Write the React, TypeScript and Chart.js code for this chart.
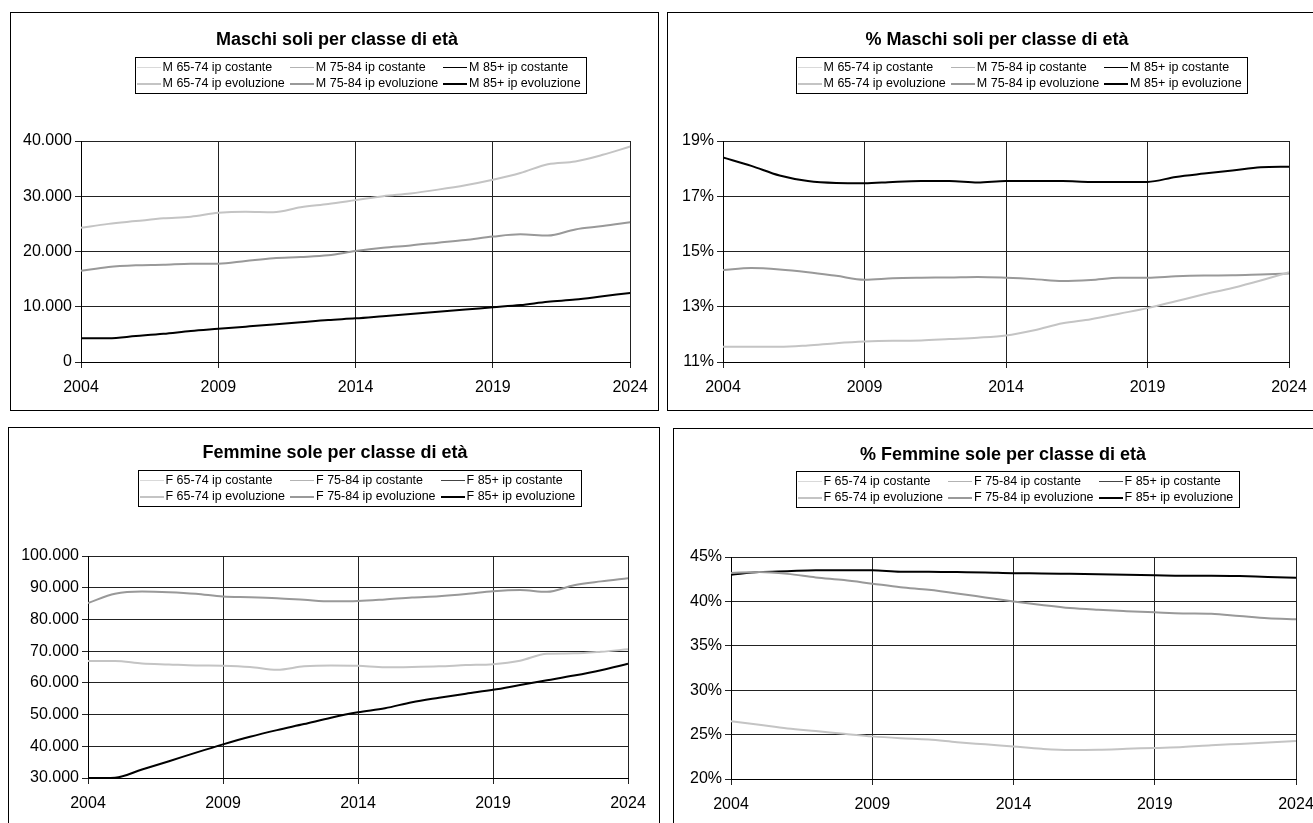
import React, { useEffect, useRef } from 'react';
import { Chart, registerables } from 'chart.js';

Chart.register(...registerables);

const FONT = '"Liberation Sans", Arial, Helvetica, sans-serif';
Chart.defaults.font.family = FONT;
Chart.defaults.color = '#000';

// Anni di proiezione
const years = [2004, 2005, 2006, 2007, 2008, 2009, 2010, 2011, 2012, 2013, 2014, 2015, 2016, 2017, 2018, 2019, 2020, 2021, 2022, 2023, 2024];

// Maschi soli (valori assoluti), ipotesi evoluzione
const m6574Evol = [24300, 25000, 25500, 26000, 26300, 27000, 27200, 27100, 28000, 28600, 29300, 30000, 30500, 31200, 32000, 33000, 34200, 35800, 36300, 37500, 39000];
const m7584Evol = [16500, 17200, 17500, 17600, 17800, 17800, 18300, 18800, 19000, 19300, 20100, 20700, 21100, 21600, 22100, 22700, 23100, 22900, 24000, 24600, 25300];
const m85Evol = [4300, 4300, 4700, 5100, 5600, 6000, 6400, 6800, 7200, 7600, 7900, 8300, 8700, 9100, 9500, 9900, 10300, 10900, 11300, 11900, 12500];

// % maschi soli, ipotesi evoluzione
const m6574PctEvol = [11.55, 11.55, 11.55, 11.6, 11.68, 11.74, 11.77, 11.78, 11.83, 11.88, 11.96, 12.15, 12.4, 12.55, 12.75, 12.95, 13.2, 13.45, 13.68, 13.95, 14.25];
const m7584PctEvol = [14.33, 14.4, 14.35, 14.25, 14.12, 13.98, 14.03, 14.05, 14.06, 14.08, 14.05, 14.0, 13.93, 13.97, 14.05, 14.05, 14.1, 14.13, 14.14, 14.17, 14.2];
const m85PctEvol = [18.4, 18.1, 17.75, 17.55, 17.48, 17.47, 17.52, 17.55, 17.55, 17.5, 17.55, 17.55, 17.55, 17.52, 17.52, 17.52, 17.7, 17.82, 17.93, 18.05, 18.07];

// Femmine sole (valori assoluti), ipotesi evoluzione
const f6574Evol = [66900, 66900, 66100, 65800, 65500, 65400, 65000, 64100, 65200, 65500, 65400, 64900, 65000, 65200, 65600, 65900, 67000, 69200, 69300, 69800, 70600];
const f7584Evol = [85200, 88100, 88800, 88600, 88100, 87200, 87000, 86700, 86200, 85700, 85800, 86300, 86900, 87300, 88000, 88900, 89300, 88700, 90800, 92000, 93000];
const f85Evol = [30000, 30100, 32700, 35300, 38000, 40600, 43000, 45100, 47000, 49000, 50700, 52000, 53900, 55300, 56600, 57800, 59300, 60800, 62300, 64000, 66000];

// % femmine sole, ipotesi evoluzione
const f6574PctEvol = [26.5, 26.1, 25.7, 25.4, 25.1, 24.8, 24.6, 24.45, 24.15, 23.9, 23.65, 23.4, 23.27, 23.3, 23.4, 23.5, 23.6, 23.8, 23.95, 24.1, 24.28];
const f7584PctEvol = [43.2, 43.3, 43.1, 42.7, 42.4, 42.0, 41.6, 41.3, 40.9, 40.45, 40.0, 39.6, 39.25, 39.05, 38.9, 38.77, 38.65, 38.6, 38.35, 38.1, 38.0];
const f85PctEvol = [43.0, 43.3, 43.4, 43.5, 43.5, 43.5, 43.35, 43.35, 43.3, 43.25, 43.17, 43.15, 43.1, 43.05, 43.0, 42.95, 42.9, 42.9, 42.85, 42.75, 42.67];

// Legend labels
const maleLabels = [
  'M 65-74 ip costante', 'M 75-84 ip costante', 'M 85+ ip costante',
  'M 65-74 ip evoluzione', 'M 75-84 ip evoluzione', 'M 85+ ip evoluzione',
];
const femaleLabels = [
  'F 65-74 ip costante', 'F 75-84 ip costante', 'F 85+ ip costante',
  'F 65-74 ip evoluzione', 'F 75-84 ip evoluzione', 'F 85+ ip evoluzione',
];

const thousands = (v: number) => String(v).replace(/\B(?=(\d{3})+(?!\d))/g, '.');
const percent = (v: number) => `${v}%`;

type PanelSpec = {
  title: string;
  labels: string[];
  evol: number[][];
  yMin: number;
  yMax: number;
  yStep: number;
  fmt: (v: number) => string;
  box: { left: number; top: number; width: number; height: number };
  area: { left: number; top: number; right: number; bottom: number };
  titlePos: { x: number; y: number };
  legendPos: { x: number; y: number };
  costante85: string;
};

// Title and boxed two-row legend drawn on the canvas
const decorPlugin = {
  id: 'panelDecor',
  afterDraw(chart: any, _args: any, opts: any) {
    const { ctx } = chart;
    ctx.save();
    ctx.fillStyle = '#000';
    ctx.font = `bold 18px ${FONT}`;
    ctx.textAlign = 'center';
    ctx.textBaseline = 'middle';
    ctx.fillText(opts.title, opts.titleX, opts.titleY);

    ctx.font = `12.5px ${FONT}`;
    const ds = chart.data.datasets;
    const cols = 3;
    const rows = Math.ceil(ds.length / cols);
    const sample = 24, gap = 2, colPad = 5, padL = 1, padR = 6;
    const colW: number[] = [];
    for (let c = 0; c < cols; c++) {
      let w = 0;
      for (let r = 0; r < rows; r++) {
        const d = ds[r * cols + c];
        if (d) w = Math.max(w, ctx.measureText(d.label).width);
      }
      colW.push(sample + gap + w + colPad);
    }
    const boxW = padL + colW.reduce((a, b) => a + b, 0) - colPad + padR;
    const rowH = 16;
    const boxH = rows * rowH + 4;
    const x0 = Math.round(opts.legendX) + 0.5;
    const y0 = Math.round(opts.legendY) + 0.5;
    ctx.strokeStyle = '#000';
    ctx.lineWidth = 1;
    ctx.strokeRect(x0, y0, Math.round(boxW), boxH);
    ctx.textAlign = 'left';
    for (let r = 0; r < rows; r++) {
      let x = x0 + padL;
      const y = y0 + 2 + rowH * r + rowH / 2;
      for (let c = 0; c < cols; c++) {
        const d = ds[r * cols + c];
        if (d) {
          const lw = d.borderWidth;
          const ly = lw % 2 === 1 ? Math.floor(y) + 0.5 : Math.round(y);
          ctx.strokeStyle = d.borderColor;
          ctx.lineWidth = lw;
          ctx.beginPath();
          ctx.moveTo(Math.round(x), ly);
          ctx.lineTo(Math.round(x) + sample, ly);
          ctx.stroke();
          ctx.fillStyle = '#000';
          ctx.fillText(d.label, x + sample + gap, y + 0.5);
        }
        x += colW[c];
      }
    }
    ctx.restore();
  },
};

const costanteStyles = (c85: string) => [
  { color: '#d9d9d9', width: 1 },
  { color: '#b3b3b3', width: 1 },
  { color: c85, width: 1 },
];
const evolStyles = [
  { color: '#c4c4c4', width: 2 },
  { color: '#999999', width: 2 },
  { color: '#000000', width: 2 },
];

function Panel({ spec }: { spec: PanelSpec }) {
  const ref = useRef<HTMLCanvasElement | null>(null);

  useEffect(() => {
    const canvas = ref.current;
    if (!canvas) return;
    const { box, area } = spec;
    const cst = costanteStyles(spec.costante85);
    const datasets: any[] = [];
    for (let i = 0; i < 3; i++) {
      datasets.push({
        label: spec.labels[i],
        data: [],
        borderColor: cst[i].color,
        borderWidth: cst[i].width,
      });
    }
    for (let i = 0; i < 3; i++) {
      datasets.push({
        label: spec.labels[i + 3],
        data: years.map((x, k) => ({ x, y: spec.evol[i][k] })),
        borderColor: evolStyles[i].color,
        borderWidth: evolStyles[i].width,
      });
    }
    const chart = new Chart(canvas, {
      type: 'line',
      data: { datasets },
      options: {
        responsive: false,
        animation: false,
        layout: {
          padding: { left: 0, top: area.top, right: box.width - area.right, bottom: 0 },
        },
        elements: {
          point: { radius: 0 },
          line: { cubicInterpolationMode: 'monotone', fill: false },
        },
        plugins: {
          legend: { display: false },
          tooltip: { enabled: false },
          panelDecor: {
            title: spec.title,
            titleX: spec.titlePos.x,
            titleY: spec.titlePos.y,
            legendX: spec.legendPos.x,
            legendY: spec.legendPos.y,
          },
        } as any,
        scales: {
          x: {
            type: 'linear',
            min: 2004,
            max: 2024,
            afterFit: (s: any) => { s.height = box.height - area.bottom; },
            ticks: {
              stepSize: 5,
              callback: (v: any) => String(v),
              font: { size: 16 },
              color: '#000',
              padding: 10,
              maxRotation: 0,
            },
            grid: { color: '#222', lineWidth: 1, tickLength: 6, drawTicks: true },
            border: { color: '#000', width: 1 },
          },
          y: {
            min: spec.yMin,
            max: spec.yMax,
            afterFit: (s: any) => { s.width = area.left; },
            ticks: {
              stepSize: spec.yStep,
              callback: (v: any) => spec.fmt(Number(v)),
              font: { size: 16 },
              color: '#000',
              padding: 3,
            },
            grid: { color: '#222', lineWidth: 1, tickLength: 6, drawTicks: true },
            border: { color: '#000', width: 1 },
          },
        },
      },
      plugins: [decorPlugin],
    } as any);
    return () => chart.destroy();
  }, [spec]);

  const { box } = spec;
  return (
    <div
      style={{
        position: 'absolute',
        left: box.left,
        top: box.top,
        width: box.width,
        height: box.height,
        border: '1px solid #000',
        background: '#fff',
      }}
    >
      <canvas ref={ref} width={box.width} height={box.height} style={{ display: 'block' }} />
    </div>
  );
}

const panels: PanelSpec[] = [
  {
    title: 'Maschi soli per classe di età',
    labels: maleLabels,
    evol: [m6574Evol, m7584Evol, m85Evol],
    yMin: 0, yMax: 40000, yStep: 10000, fmt: thousands,
    box: { left: 10, top: 12, width: 647, height: 397 },
    area: { left: 70, top: 128, right: 620, bottom: 349 },
    titlePos: { x: 326, y: 27 },
    legendPos: { x: 124, y: 44 },
    costante85: '#000000',
  },
  {
    title: '% Maschi soli per classe di età',
    labels: maleLabels,
    evol: [m6574PctEvol, m7584PctEvol, m85PctEvol],
    yMin: 11, yMax: 19, yStep: 2, fmt: percent,
    box: { left: 667, top: 12, width: 660, height: 397 },
    area: { left: 55, top: 128, right: 621, bottom: 349 },
    titlePos: { x: 329, y: 27 },
    legendPos: { x: 128, y: 44 },
    costante85: '#000000',
  },
  {
    title: 'Femmine sole per classe di età',
    labels: femaleLabels,
    evol: [f6574Evol, f7584Evol, f85Evol],
    yMin: 30000, yMax: 100000, yStep: 10000, fmt: thousands,
    box: { left: 8, top: 427, width: 650, height: 398 },
    area: { left: 79, top: 128, right: 619, bottom: 350 },
    titlePos: { x: 326, y: 25 },
    legendPos: { x: 129, y: 42 },
    costante85: '#444444',
  },
  {
    title: '% Femmine sole per classe di età',
    labels: femaleLabels,
    evol: [f6574PctEvol, f7584PctEvol, f85PctEvol],
    yMin: 20, yMax: 45, yStep: 5, fmt: percent,
    box: { left: 673, top: 428, width: 660, height: 398 },
    area: { left: 57, top: 128, right: 622, bottom: 350 },
    titlePos: { x: 329, y: 26 },
    legendPos: { x: 122, y: 42 },
    costante85: '#444444',
  },
];

export default function App() {
  return (
    <div
      style={{
        position: 'absolute',
        left: 0,
        top: 0,
        width: 1313,
        height: 823,
        overflow: 'hidden',
        background: '#fff',
      }}
    >
      {panels.map((p) => (
        <Panel key={p.title} spec={p} />
      ))}
    </div>
  );
}
